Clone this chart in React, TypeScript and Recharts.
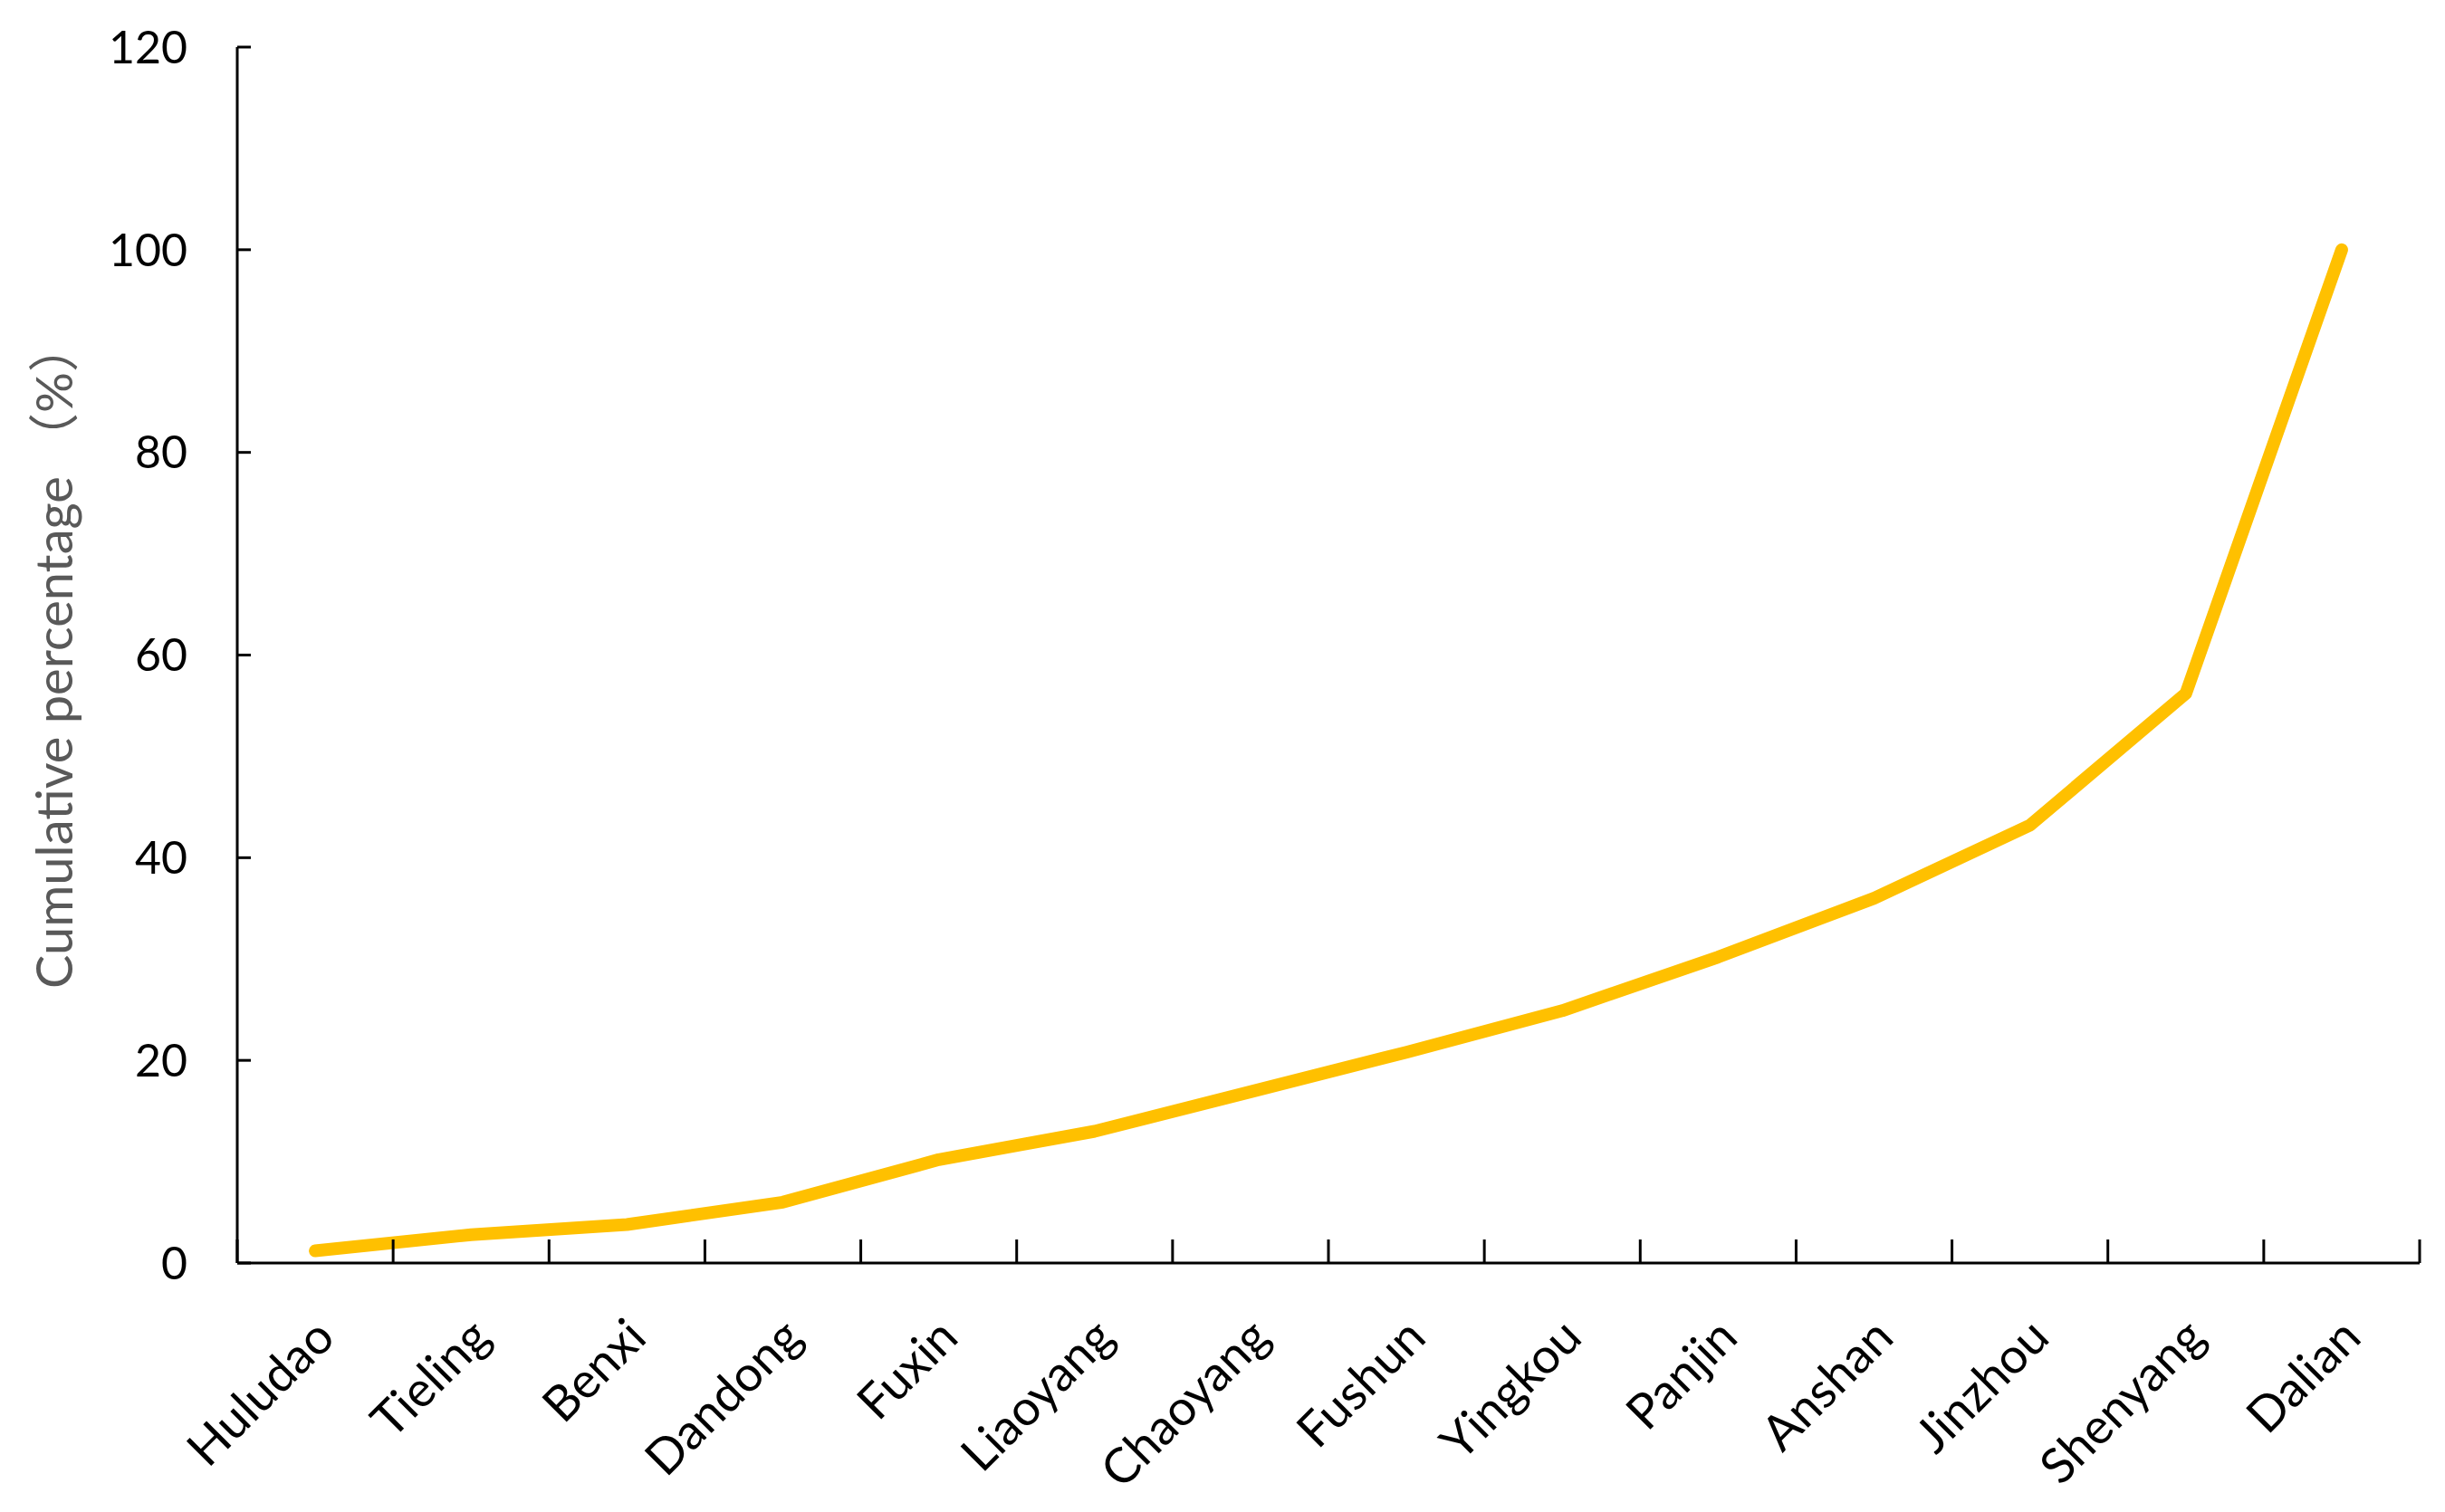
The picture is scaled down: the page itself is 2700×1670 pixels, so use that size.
import React from 'react';
import { LineChart, Line, XAxis, YAxis } from 'recharts';

const cities = [
  'Huludao', 'Tieling', 'Benxi', 'Dandong', 'Fuxin', 'Liaoyang', 'Chaoyang',
  'Fushun', 'Yingkou', 'Panjin', 'Anshan', 'Jinzhou', 'Shenyang', 'Dalian',
];
const cumulative = [1.2, 2.8, 3.8, 6.0, 10.2, 13.0, 16.9, 20.8, 24.9, 30.2, 36.0, 43.2, 56.2, 100];
const yTicks = [0, 20, 40, 60, 80, 100, 120];
const boundaryTicks = [0, 1, 2, 3, 4, 5, 6, 7, 8, 9, 10, 11, 12, 13, 14];

// pos = middle of each category slot on the numeric axis
const data = cities.map((city, i) => ({ city, pos: i + 0.5, value: cumulative[i] }));

const font = 'Lato, "Noto Sans CJK SC", sans-serif';

const CityTick = (props: any) => {
  const { x, y, payload } = props;
  const ax = x + 24;
  const ay = y + 76;
  return (
    <text
      x={ax}
      y={ay}
      transform={`rotate(-45 ${ax} ${ay})`}
      textAnchor="end"
      fontSize={54}
      fontFamily={font}
      fill="#000"
    >
      {payload.value}
    </text>
  );
};

const YLabel = (props: any) => {
  const { viewBox } = props;
  const cx = viewBox.x + 58;
  const cy = viewBox.y + viewBox.height / 2;
  return (
    <text
      x={cx}
      y={cy}
      transform={`rotate(-90 ${cx} ${cy})`}
      textAnchor="middle"
      dominantBaseline="central"
      fontSize={56}
      fontFamily={font}
      fill="#595959"
    >
      Cumulative percentage （%）
    </text>
  );
};

export default function App() {
  return (
    <div style={{ position: 'absolute', left: 0, top: 0, width: 2700, height: 1670, background: '#fff' }}>
      <LineChart width={2700} height={1670} data={data} margin={{ top: 52, right: 28, left: 0, bottom: 0 }}>
        <XAxis
          xAxisId="bnd"
          type="number"
          dataKey="pos"
          domain={[0, 14]}
          ticks={boundaryTicks}
          allowDataOverflow
          interval={0}
          height={1}
          tickSize={-26}
          tickFormatter={() => ''}
          axisLine={{ stroke: '#000', strokeWidth: 3 }}
          tickLine={{ stroke: '#000', strokeWidth: 3 }}
        />
        <XAxis
          xAxisId="cat"
          dataKey="city"
          scale="band"
          height={274}
          axisLine={false}
          tickLine={false}
          interval={0}
          tick={<CityTick />}
        />
        <YAxis
          domain={[0, 120]}
          ticks={yTicks}
          width={262}
          tickSize={-15}
          tickMargin={70}
          axisLine={{ stroke: '#000', strokeWidth: 3 }}
          tickLine={{ stroke: '#000', strokeWidth: 3 }}
          tick={{ fontSize: 50, fontFamily: font, fill: '#000' }}
          label={<YLabel />}
        />
        <Line
          xAxisId="bnd"
          type="linear"
          dataKey="value"
          stroke="#FFC000"
          strokeWidth={14}
          strokeLinecap="round"
          strokeLinejoin="round"
          dot={false}
          isAnimationActive={false}
        />
      </LineChart>
    </div>
  );
}
